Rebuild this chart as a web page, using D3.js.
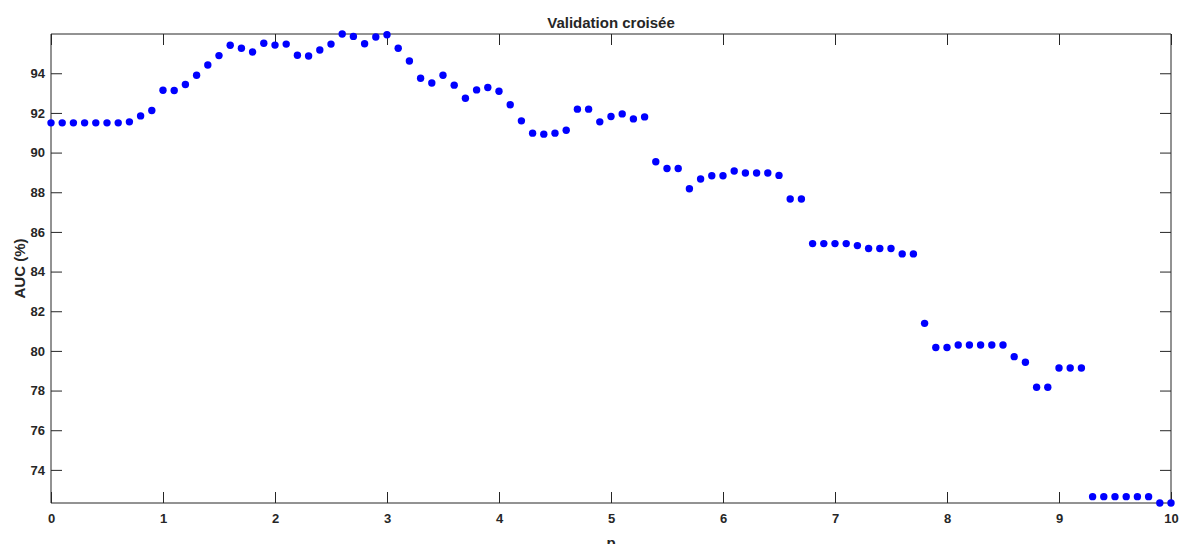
<!DOCTYPE html>
<html>
<head>
<meta charset="utf-8">
<script src="https://cdn.jsdelivr.net/npm/d3@7"></script>
<style>
  body { margin: 0; background: #fff; }
  svg text { font-family: "Liberation Sans", Arial, sans-serif; font-weight: bold; fill: #262626; }
</style>
</head>
<body>
<svg id="chart" width="1180" height="544"></svg>
<script>
// p values (x) and cross-validated AUC (%)
const pValues = [
  0.0, 0.1, 0.2, 0.3, 0.4, 0.5, 0.6, 0.7, 0.8, 0.9,
  1.0, 1.1, 1.2, 1.3, 1.4, 1.5, 1.6, 1.7, 1.8, 1.9,
  2.0, 2.1, 2.2, 2.3, 2.4, 2.5, 2.6, 2.7, 2.8, 2.9,
  3.0, 3.1, 3.2, 3.3, 3.4, 3.5, 3.6, 3.7, 3.8, 3.9,
  4.0, 4.1, 4.2, 4.3, 4.4, 4.5, 4.6, 4.7, 4.8, 4.9,
  5.0, 5.1, 5.2, 5.3, 5.4, 5.5, 5.6, 5.7, 5.8, 5.9,
  6.0, 6.1, 6.2, 6.3, 6.4, 6.5, 6.6, 6.7, 6.8, 6.9,
  7.0, 7.1, 7.2, 7.3, 7.4, 7.5, 7.6, 7.7, 7.8, 7.9,
  8.0, 8.1, 8.2, 8.3, 8.4, 8.5, 8.6, 8.7, 8.8, 8.9,
  9.0, 9.1, 9.2, 9.3, 9.4, 9.5, 9.6, 9.7, 9.8, 9.9,
  10.0
]
const aucValues = [
  91.50, 91.50, 91.50, 91.50, 91.50, 91.50, 91.50, 91.55, 91.85, 92.12,
  93.14, 93.13, 93.43, 93.90, 94.42, 94.89, 95.41, 95.26, 95.07, 95.51,
  95.42, 95.47, 94.91, 94.87, 95.17, 95.47, 95.98, 95.86, 95.49, 95.83,
  95.94, 95.26, 94.62, 93.75, 93.51, 93.90, 93.40, 92.74, 93.16, 93.28,
  93.09, 92.41, 91.60, 90.98, 90.93, 90.98, 91.13, 92.19, 92.19, 91.55,
  91.82, 91.95, 91.70, 91.80, 89.54, 89.20, 89.20, 88.18, 88.67, 88.83,
  88.83, 89.07, 88.97, 88.97, 88.97, 88.85, 87.66, 87.66, 85.41, 85.41,
  85.41, 85.41, 85.31, 85.16, 85.16, 85.16, 84.89, 84.89, 81.39, 80.17,
  80.17, 80.30, 80.30, 80.30, 80.30, 80.30, 79.71, 79.43, 78.17, 78.17,
  79.14, 79.14, 79.14, 72.65, 72.65, 72.65, 72.65, 72.65, 72.65, 72.33,
  72.33
]
const xTicks = [0, 1, 2, 3, 4, 5, 6, 7, 8, 9, 10]
const yTicks = [74, 76, 78, 80, 82, 84, 86, 88, 90, 92, 94]

const margin = { top: 34, left: 51, right: 9, bottom: 41 }
const width = 1180 - margin.left - margin.right
const height = 544 - margin.top - margin.bottom
const axisColor = '#262626'
const tickLen = 11

const svg = d3.select('#chart')
const g = svg.append('g').attr('transform', `translate(${margin.left},${margin.top})`)

// axis tight around the data, like MATLAB
const x = d3.scaleLinear().domain([0, 10]).range([0, width])
const y = d3.scaleLinear().domain(d3.extent(aucValues)).range([height, 0])

// bottom axis with labels (ticks point inward)
const xAxis = g.append('g')
  .attr('transform', `translate(0,${height})`)
  .call(d3.axisBottom(x).tickValues(xTicks).tickSize(-tickLen).tickPadding(11).tickFormat(d3.format('d')))
// top axis mirror
const xTop = g.append('g')
  .call(d3.axisTop(x).tickValues(xTicks).tickSize(-tickLen).tickFormat(''))
// left axis with labels
const yAxis = g.append('g')
  .call(d3.axisLeft(y).tickValues(yTicks).tickSize(-tickLen).tickPadding(6).tickFormat(d3.format('d')))
// right axis mirror
const yRight = g.append('g')
  .attr('transform', `translate(${width},0)`)
  .call(d3.axisRight(y).tickValues(yTicks).tickSize(-tickLen).tickFormat(''))

;[xAxis, xTop, yAxis, yRight].forEach(function (a) {
  a.select('.domain').attr('stroke', axisColor).attr('stroke-width', 1)
  a.selectAll('.tick line').attr('stroke', axisColor).attr('stroke-width', 1)
  a.selectAll('.tick text')
    .attr('fill', axisColor)
    .style('font-size', '13px')
    .style('font-weight', 'bold')
    .style('font-family', '"Liberation Sans", Arial, sans-serif')
})
// keep the box edges flat (no outer ticks)
xTop.select('.domain').attr('d', `M0,0H${width}`)
yRight.select('.domain').attr('d', `M0,0V${height}`)
xAxis.select('.domain').attr('d', `M0,0H${width}`)
yAxis.select('.domain').attr('d', `M0,0V${height}`)

// data points
g.append('g')
  .selectAll('circle')
  .data(aucValues)
  .enter().append('circle')
  .attr('cx', function (d, i) { return x(pValues[i]) })
  .attr('cy', function (d) { return y(d) })
  .attr('r', 3.7)
  .attr('fill', '#0000ff')

// title
g.append('text')
  .attr('x', width / 2)
  .attr('y', -6)
  .attr('text-anchor', 'middle')
  .style('font-size', '15px')
  .text('Validation croisée')

// axis labels
g.append('text')
  .attr('x', width / 2)
  .attr('y', height + 45)
  .attr('text-anchor', 'middle')
  .style('font-size', '15px')
  .text('p')

g.append('text')
  .attr('transform', `translate(${-26},${height / 2}) rotate(-90)`)
  .attr('text-anchor', 'middle')
  .style('font-size', '15px')
  .text('AUC (%)')
</script>
</body>
</html>
